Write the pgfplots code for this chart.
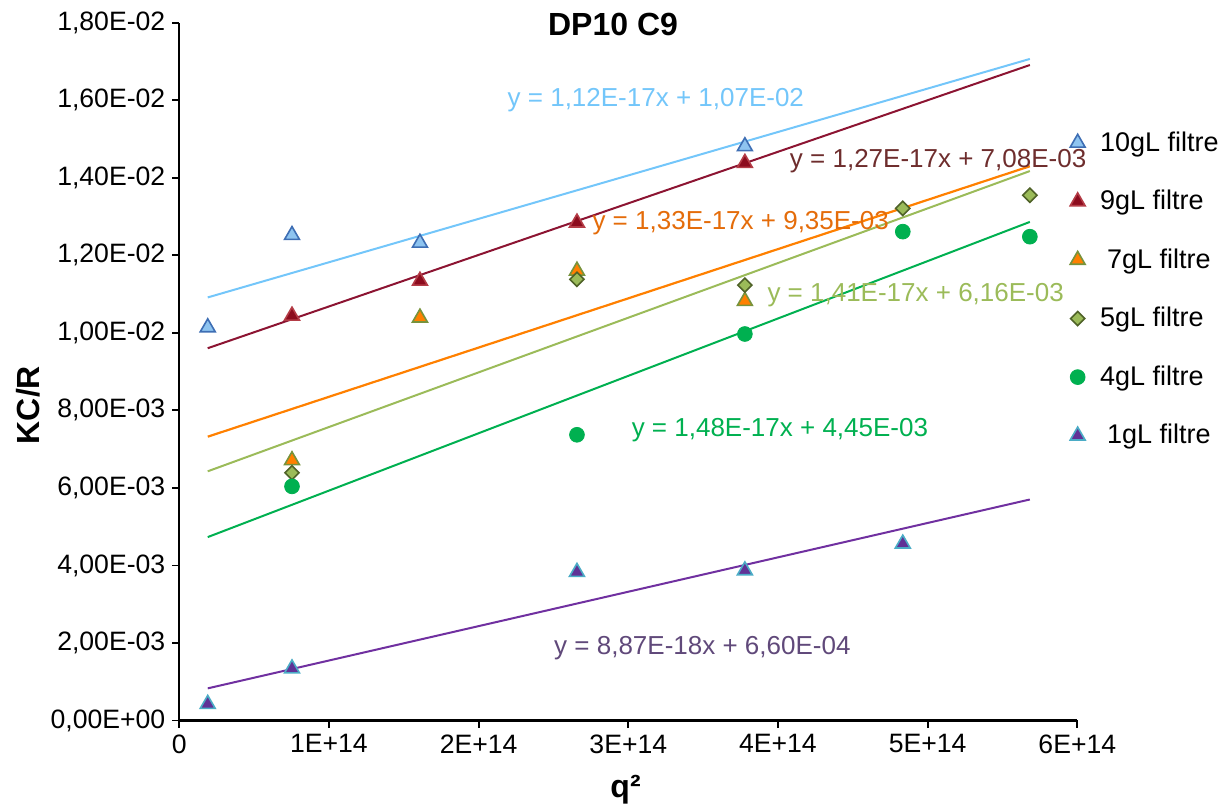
\documentclass[border=0pt]{standalone}
\usepackage{pgfplots}
\pgfplotsset{compat=1.18}
\usepackage{fontspec}
\setmainfont{Liberation Sans}
\definecolor{lblue}{RGB}{115,198,250}
\definecolor{bfill}{RGB}{142,196,240}
\definecolor{bedge}{RGB}{62,110,180}
\definecolor{dred}{RGB}{140,20,50}
\definecolor{dredfill}{RGB}{140,12,30}
\definecolor{dredge}{RGB}{180,60,70}
\definecolor{brownt}{RGB}{110,45,45}
\definecolor{orng}{RGB}{255,128,0}
\definecolor{orngt}{RGB}{228,108,10}
\definecolor{olive}{RGB}{119,147,60}
\definecolor{lgreen}{RGB}{155,187,89}
\definecolor{dolive}{RGB}{79,98,40}
\definecolor{grn}{RGB}{0,176,80}
\definecolor{purp}{RGB}{96,50,150}
\definecolor{purpline}{RGB}{112,48,160}
\definecolor{purpt}{RGB}{96,73,122}
\definecolor{teal}{RGB}{75,172,198}
\begin{document}
\begin{tikzpicture}
\useasboundingbox (-89.65pt,-45.75pt) rectangle (522.35pt,360.25pt);
\begin{axis}[
  at={(0,0)}, anchor=south west,
  scale only axis, width=449pt, height=348.9pt,
  xmin=0, xmax=6e14, ymin=0, ymax=0.018,
  axis x line*=bottom, axis y line*=left,
  axis line style={black, line width=1pt},
  tick style={black, line width=0.9pt},
  tick align=outside, major tick length=3.5pt,
  scaled x ticks=false, scaled y ticks=false,
  xtick={0,1e14,2e14,3e14,4e14,5e14,6e14},
  xticklabels={0,1E+14,2E+14,3E+14,4E+14,5E+14,6E+14},
  ytick={0,0.002,0.004,0.006,0.008,0.010,0.012,0.014,0.016,0.018},
  yticklabels={{0,00E+00},{2,00E-03},{4,00E-03},{6,00E-03},{8,00E-03},{1,00E-02},{1,20E-02},{1,40E-02},{1,60E-02},{1,80E-02}},
  ticklabel style={font=\fontsize{13.3}{15}\selectfont, black},
  xlabel={q²}, ylabel={KC/R},
  xlabel style={at={(axis description cs:0.497,-0.0996)}, anchor=center, font=\fontsize{16}{18}\selectfont\bfseries},
  ylabel style={at={(axis description cs:-0.1685,0.452)}, anchor=center, rotate=0, font=\fontsize{16}{18}\selectfont\bfseries},
  legend style={at={(rel axis cs:0.985,0.856)}, anchor=north west, draw=none, fill=none,
    font=\fontsize{13.5}{15}\selectfont, row sep=14pt},
  legend cell align=left,
  clip=false,
]
% trendlines
\addplot[lblue, line width=1pt, forget plot] coordinates {(1.9e13,0.010913) (5.683e14,0.017065)};
\addplot[dred, line width=1pt, forget plot] coordinates {(1.9e13,0.009603) (5.683e14,0.016908)};
\addplot[orng, line width=1.1pt, forget plot] coordinates {(1.9e13,0.007321) (5.683e14,0.014297)};
\addplot[lgreen, line width=1pt, forget plot] coordinates {(1.9e13,0.006428) (5.683e14,0.014173)};
\addplot[grn, line width=1pt, forget plot] coordinates {(1.9e13,0.004731) (5.683e14,0.012861)};
\addplot[purpline, line width=1pt, forget plot] coordinates {(1.9e13,0.000829) (5.683e14,0.005701)};
% data
\addplot[only marks, mark=triangle*, mark size=4.3pt, mark options={fill=bfill, draw=bedge, line width=0.8pt}]
  coordinates {(1.9e13,0.01014) (7.53e13,0.01252) (1.608e14,0.01232) (3.779e14,0.01481)};
\addlegendentry{\hspace*{5.5pt}10gL filtre}
\addplot[only marks, mark=triangle*, mark size=4.3pt, mark options={fill=dredfill, draw=dredge, line width=0.8pt}]
  coordinates {(7.53e13,0.01044) (1.608e14,0.01134) (2.657e14,0.01284) (3.779e14,0.01438)};
\addlegendentry{\hspace*{5.5pt}9gL filtre}
\addplot[only marks, mark=triangle*, mark size=4.3pt, mark options={fill=orng, draw=olive, line width=0.8pt}]
  coordinates {(7.53e13,0.00671) (1.608e14,0.01039) (2.657e14,0.0116) (3.779e14,0.01082)};
\addlegendentry{\hspace*{9pt}7gL filtre}
\addplot[only marks, mark=square*, mark size=2.5pt, mark options={rotate=45, fill=lgreen, draw=dolive, line width=0.8pt}]
  coordinates {(7.53e13,0.00639) (2.657e14,0.01138) (3.779e14,0.01123) (4.834e14,0.01321) (5.683e14,0.01355)};
\addlegendentry{\hspace*{5.5pt}5gL filtre}
\addplot[only marks, mark=*, mark size=3.7pt, mark options={fill=grn, draw=grn}]
  coordinates {(7.53e13,0.00604) (2.657e14,0.00737) (3.779e14,0.00997) (4.834e14,0.01261) (5.683e14,0.01248)};
\addlegendentry{\hspace*{5.5pt}4gL filtre}
\addplot[only marks, mark=triangle*, mark size=4.3pt, mark options={fill=purp, draw=teal, line width=0.8pt}]
  coordinates {(1.9e13,0.000425) (7.53e13,0.00134) (2.657e14,0.00383) (3.779e14,0.00387) (4.834e14,0.00456)};
\addlegendentry{\hspace*{9pt}1gL filtre}
% equations
\node[lblue, font=\fontsize{13}{15}\selectfont] at (axis cs:3.184e14,0.0160) {y = 1,12E-17x + 1,07E-02};
\node[brownt, font=\fontsize{13}{15}\selectfont] at (axis cs:5.07e14,0.01443) {y = 1,27E-17x + 7,08E-03};
\node[orngt, font=\fontsize{13}{15}\selectfont] at (axis cs:3.751e14,0.01283) {y = 1,33E-17x + 9,35E-03};
\node[lgreen, font=\fontsize{13}{15}\selectfont] at (axis cs:4.92e14,0.01098) {y = 1,41E-17x + 6,16E-03};
\node[grn, font=\fontsize{13}{15}\selectfont] at (axis cs:4.013e14,0.00748) {y = 1,48E-17x + 4,45E-03};
\node[purpt, font=\fontsize{13}{15}\selectfont] at (axis cs:3.495e14,0.00187) {y = 8,87E-18x + 6,60E-04};
\node[font=\fontsize{16}{18}\selectfont\bfseries] at (rel axis cs:0.483,0.998) {DP10 C9};
\end{axis}
\end{tikzpicture}
\end{document}
